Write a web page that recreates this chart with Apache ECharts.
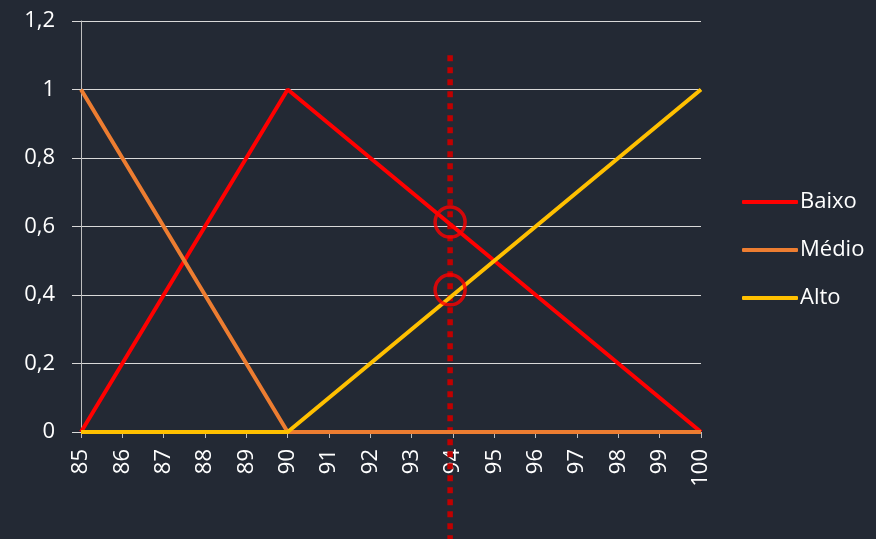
<!DOCTYPE html>
<html>
<head>
<meta charset="utf-8">
<script src="https://cdn.jsdelivr.net/npm/echarts@6/dist/echarts.min.js"></script>
<style>
  html, body { margin: 0; padding: 0; background: #232934; }
  #chart { width: 876px; height: 539px; }
</style>
</head>
<body>
<div id="chart"></div>
<script>
// Fuzzy membership functions over the range 85..100
const xValues = [85, 86, 87, 88, 89, 90, 91, 92, 93, 94, 95, 96, 97, 98, 99, 100];
const baixo = [0, 0.2, 0.4, 0.6, 0.8, 1, 0.9, 0.8, 0.7, 0.6, 0.5, 0.4, 0.3, 0.2, 0.1, 0];
const medio = [1, 0.8, 0.6, 0.4, 0.2, 0, 0, 0, 0, 0, 0, 0, 0, 0, 0, 0];
const alto  = [0, 0, 0, 0, 0, 0, 0.1, 0.2, 0.3, 0.4, 0.5, 0.6, 0.7, 0.8, 0.9, 1];

// Input value marker and the membership degrees it hits
const inputX = 93.93;
const markerTop = 1.1;
const hitPoints = [0.613, 0.415];

const seriesNames = ['Baixo', 'Médio', 'Alto'];
const seriesColors = ['#FF0000', '#ED7D31', '#FFC000'];

const font = '"Open Sans", sans-serif';
const chart = echarts.init(document.getElementById('chart'));

function pairs(ys) { return xValues.map((x, i) => [x, ys[i]]); }

const lineSeries = [baixo, medio, alto].map((ys, i) => ({
  name: seriesNames[i],
  type: 'line',
  data: pairs(ys),
  symbol: 'none',
  color: seriesColors[i],
  lineStyle: { width: 4, color: seriesColors[i] },
  animation: false
}));

chart.setOption({
  backgroundColor: '#232934',
  animation: false,
  grid: { left: 81, right: 175, top: 21, bottom: 107 },
  legend: {
    orient: 'vertical',
    left: 737,
    top: 184,
    itemWidth: 56,
    itemHeight: 4,
    itemGap: 22,
    icon: 'roundRect',
    data: seriesNames,
    textStyle: { color: '#ffffff', fontFamily: font, fontSize: 22, lineHeight: 26, padding: [0, 0, 0, -3] }
  },
  xAxis: {
    type: 'value',
    min: 85,
    max: 100,
    interval: 1,
    axisLine: { show: true, onZero: false, lineStyle: { color: '#bfbfbf', width: 1 } },
    axisTick: { show: true, length: 6, lineStyle: { color: '#bfbfbf' } },
    splitLine: { show: false },
    axisLabel: {
      rotate: 90,
      margin: 17,
      color: '#ffffff',
      fontFamily: font,
      fontSize: 22
    }
  },
  yAxis: {
    type: 'value',
    min: 0,
    max: 1.2,
    interval: 0.2,
    axisLine: { show: true, lineStyle: { color: '#bfbfbf', width: 1 } },
    axisTick: { show: true, length: 9, lineStyle: { color: '#d9d9d9' } },
    splitLine: { show: true, lineStyle: { color: '#d9d9d9', width: 1 } },
    axisLabel: {
      margin: 26,
      color: '#ffffff',
      fontFamily: font,
      fontSize: 22,
      formatter: v => String(Math.round(v * 10) / 10).replace('.', ',')
    }
  },
  series: lineSeries.concat([{
    name: 'hits',
    type: 'scatter',
    data: hitPoints.map(y => [inputX, y]),
    symbol: 'circle',
    symbolSize: 30,
    itemStyle: { color: 'rgba(0,0,0,0)', borderColor: '#FF0000', borderWidth: 3.5 },
    z: 5,
    silent: true
  }])
});

// Dotted marker at the input value, running from 1.1 down past the axis
const markerStart = chart.convertToPixel({ gridIndex: 0 }, [inputX, markerTop]);
chart.setOption({
  graphic: [{
    type: 'line',
    shape: { x1: markerStart[0], y1: markerStart[1], x2: markerStart[0], y2: chart.getHeight() },
    style: { stroke: '#C00000', lineWidth: 5.5, lineDash: [6, 6] },
    z: 3
  }]
});
</script>
</body>
</html>
